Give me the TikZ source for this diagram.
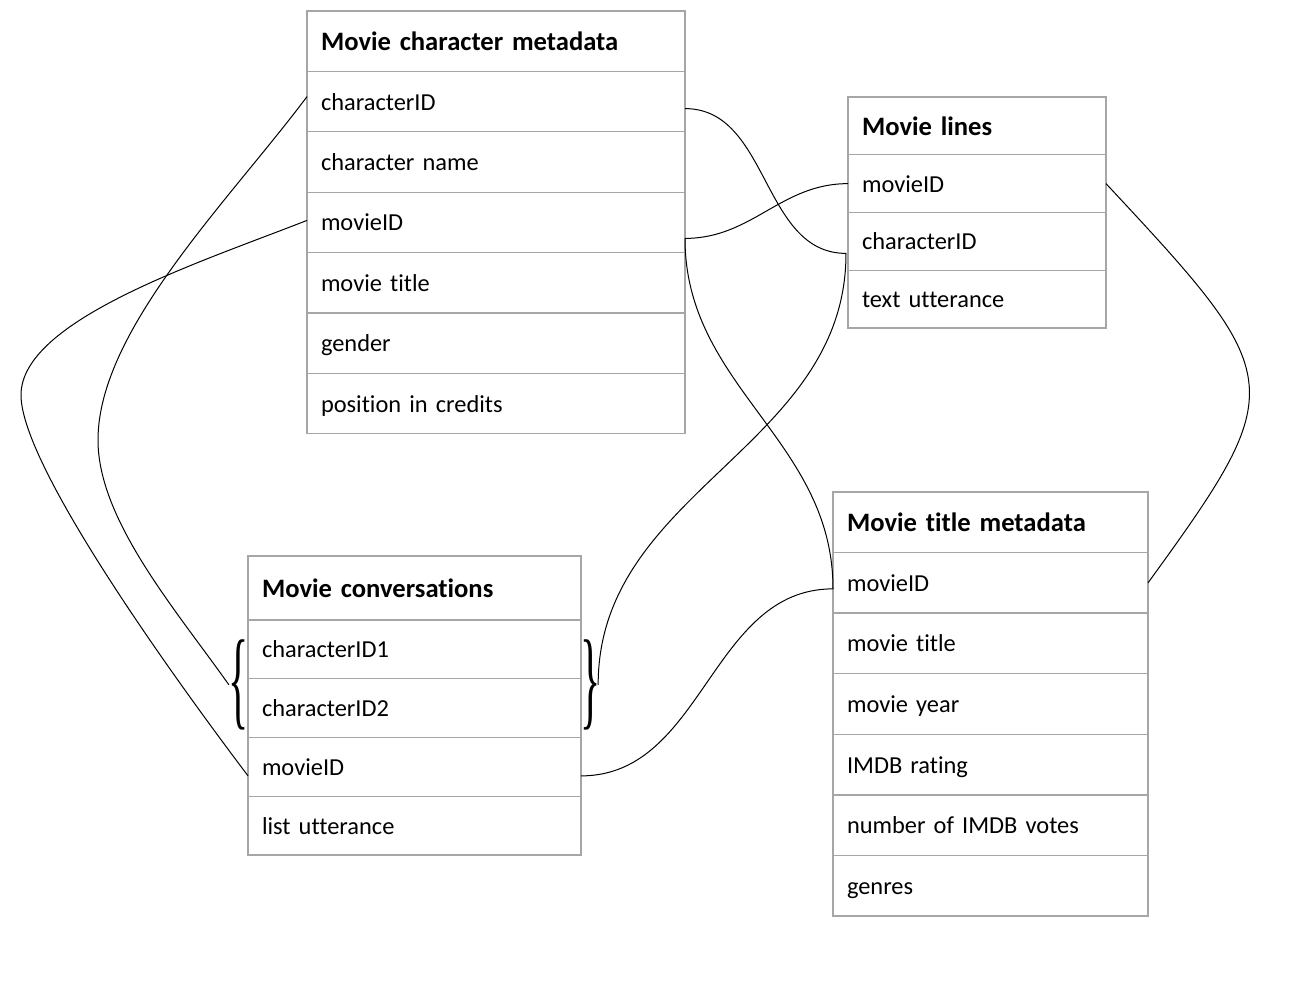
\documentclass[tikz,border=0pt]{standalone}
\usepackage{fontspec}
\setmainfont{Carlito}[Ligatures=NoCommon, WordSpace=0.8]
\newfontfamily\bracefont{Liberation Serif}
\usetikzlibrary{positioning,calc}
\definecolor{boxgray}{RGB}{166,166,166}

\begin{document}
\begin{tikzpicture}[x=1pt,y=1pt,
    cell/.style={draw=boxgray, line width=1.3pt, outer sep=0pt, inner ysep=0pt, inner xsep=14pt,
        align=left, text height=23pt, text depth=6pt, font=\fontsize{24.4}{29}\selectfont},
    head/.style={cell, text height=25.5pt, text depth=6.5pt, font=\fontsize{26.6}{32}\selectfont\bfseries},
    charrow/.style={text width=350pt, minimum height=60.4pt},
    linerow/.style={text width=230pt, minimum height=57.75pt},
    titlerow/.style={text width=287pt, minimum height=60.57pt},
    convrow/.style={text width=305pt, minimum height=58.75pt},
    brace/.style={inner sep=0pt, outer sep=0pt, font=\bracefont\fontsize{28}{28}\selectfont},
    link/.style={line width=1pt}]
    \useasboundingbox (0,0) rectangle (1294,-1002);

    % movie character metadata
    \node[head, charrow, anchor=north west] (C0) at (307,-11) {Movie character metadata};
    \node[cell, charrow, below=0pt of C0] (C1) {characterID};
    \node[cell, charrow, below=0pt of C1] (C2) {character name};
    \node[cell, charrow, below=0pt of C2] (C3) {movieID};
    \node[cell, charrow, below=0pt of C3] (C4) {movie title};
    \node[cell, charrow, below=0pt of C4] (C5) {gender};
    \node[cell, charrow, below=0pt of C5] (C6) {position in credits};

    % movie lines
    \node[head, linerow, anchor=north west] (L0) at (848,-97) {Movie lines};
    \node[cell, linerow, below=0pt of L0] (L1) {movieID};
    \node[cell, linerow, below=0pt of L1] (L2) {characterID};
    \node[cell, linerow, below=0pt of L2] (L3) {text utterance};

    % movie title metadata
    \node[head, titlerow, anchor=north west] (T0) at (833,-492) {Movie title metadata};
    \node[cell, titlerow, below=0pt of T0] (T1) {movieID};
    \node[cell, titlerow, below=0pt of T1] (T2) {movie title};
    \node[cell, titlerow, below=0pt of T2] (T3) {movie year};
    \node[cell, titlerow, below=0pt of T3] (T4) {IMDB rating};
    \node[cell, titlerow, below=0pt of T4] (T5) {number of IMDB votes};
    \node[cell, titlerow, below=0pt of T5] (T6) {genres};

    % movie conversations
    \node[head, convrow, minimum height=64pt, anchor=north west] (V0) at (248,-556) {Movie conversations};
    \node[cell, convrow, below=0pt of V0] (V1) {characterID1};
    \node[cell, convrow, below=0pt of V1] (V2) {characterID2};
    \node[cell, convrow, below=0pt of V2] (V3) {movieID};
    \node[cell, convrow, below=0pt of V3] (V4) {list utterance};

    \node[brace, anchor=east] (lb) at ([xshift=1pt,yshift=-6pt]V1.south west)
        {\scalebox{1.5}[3.9]{\{}};
    \node[brace, anchor=west] (rb) at ([xshift=-1pt,yshift=-6pt]V1.south east)
        {\scalebox{1.5}[3.9]{\}}};

    \coordinate (c1a) at ($(C1.east)+(0,-7)$);
    \coordinate (c1b) at ($(C1.west)+(0,5)$);
    \coordinate (c3a) at ($(C3.east)+(0,-16)$);
    \coordinate (c3b) at ($(C3.west)+(0,2)$);
    \coordinate (l2a) at ($(L2.west)+(-2,-12)$);
    \coordinate (t1a) at ($(T1.west)+(0,-6)$);
    \coordinate (v3a) at ($(V3.west)+(0,-9)$);
    \coordinate (v3b) at ($(V3.east)+(0,-9)$);
    \coordinate (rtip) at ($(rb.east)+(-2,0)$);
    \coordinate (bendA) at (98,-440);
    \coordinate (bendB) at (21,-395);

    \draw[link] (c1a) to[out=0,in=180] (l2a);
    \draw[link] (c3a) to[out=0,in=180] (L1.west);
    \draw[link] (c3a) to[out=-90,in=90] (t1a);
    \draw[link] (l2a) to[out=-90,in=90] (rtip);
    \draw[link] (L1.east) .. controls +(182,-195) and +(143,197) .. (T1.east);
    \draw[link] (v3b) to[out=0,in=180] (t1a);
    \draw[link] (c1b) .. controls +(-77,-103) and +(0,110) .. (bendA)
        .. controls +(0,-80) and +(-53,75) .. (lb.west);
    \draw[link] (c3b) .. controls +(-107,-42) and +(0,75) .. (bendB)
        .. controls +(0,-65) and +(-98,130) .. (v3a);
\end{tikzpicture}
\end{document}
